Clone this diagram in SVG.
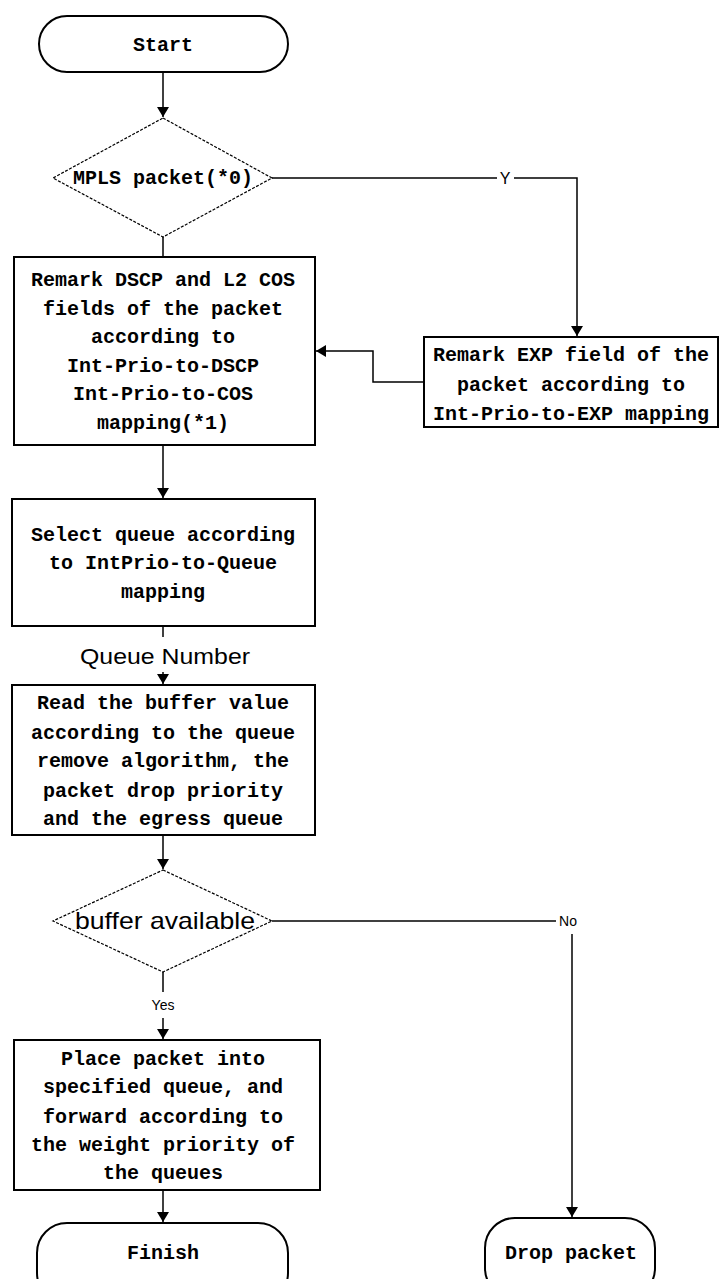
<svg xmlns="http://www.w3.org/2000/svg" width="720" height="1279" viewBox="0 0 720 1279">
<defs>
<marker id="ah" viewBox="0 0 10 16" refX="10" refY="8" markerWidth="10" markerHeight="16" markerUnits="userSpaceOnUse" orient="auto">
<path d="M0,2 L10,8 L0,14 Z" fill="#000"/>
</marker>
<style>
.shape{fill:#fff;stroke:#000;stroke-width:2}
.dia{fill:#fff;stroke:#000;stroke-width:1.2;stroke-dasharray:3 1.5}
.t{font-family:"Liberation Mono",monospace;font-weight:bold;font-size:20px;text-anchor:middle;fill:#000}
.s{font-family:"Liberation Sans",Arial,sans-serif;text-anchor:middle;fill:#000}
.c{fill:none;stroke:#000;stroke-width:1.5}
</style>
</defs>
<rect width="720" height="1279" fill="#fff"/>
<g id="connectors">
<path class="c" d="M163,72 V117" marker-end="url(#ah)"/>
<path class="c" d="M272,178 H497 M514,178 H577 V336" marker-end="url(#ah)"/>
<path class="c" d="M163,237 V257"/>
<path class="c" d="M424,382 H373 V351 H316" marker-end="url(#ah)"/>
<path class="c" d="M163,445 V498" marker-end="url(#ah)"/>
<path class="c" d="M163,626 V637"/>
<path class="c" d="M163,672 V684" marker-end="url(#ah)"/>
<path class="c" d="M163,835 V869" marker-end="url(#ah)"/>
<path class="c" d="M272,921 H556"/>
<path class="c" d="M572,934 V1217" marker-end="url(#ah)"/>
<path class="c" d="M163,972 V992"/>
<path class="c" d="M163,1018 V1039" marker-end="url(#ah)"/>
<path class="c" d="M163,1190 V1222" marker-end="url(#ah)"/>
<text class="s" x="505" y="184" font-size="16">Y</text>
<text class="s" x="163" y="265" font-size="13" font-weight="bold">N</text>
<text class="s" x="165" y="664" font-size="22" textLength="170" lengthAdjust="spacingAndGlyphs">Queue Number</text>
<text class="s" x="568" y="926" font-size="14">No</text>
<text class="s" x="163" y="1010" font-size="14">Yes</text>
</g>
<g id="start">
<rect class="shape" x="39" y="16" width="249" height="56" rx="28" ry="28"/>
<text class="t" x="163" y="51">Start</text>
</g>
<g id="mpls">
<polygon class="dia" points="163,118 272,178 163,237 53,178"/>
<text class="t" x="163" y="184">MPLS packet(*0)</text>
</g>
<g id="remark-dscp">
<rect class="shape" x="14" y="257" width="301" height="188"/>
<text class="t" x="163" y="286">Remark DSCP and L2 COS</text>
<text class="t" x="163" y="315">fields of the packet</text>
<text class="t" x="163" y="343">according to</text>
<text class="t" x="163" y="372">Int-Prio-to-DSCP</text>
<text class="t" x="163" y="400">Int-Prio-to-COS</text>
<text class="t" x="163" y="429">mapping(*1)</text>
</g>
<g id="remark-exp">
<rect class="shape" x="424" y="337" width="294" height="90"/>
<text class="t" x="571" y="361">Remark EXP field of the</text>
<text class="t" x="571" y="391">packet according to</text>
<text class="t" x="571" y="420">Int-Prio-to-EXP mapping</text>
</g>
<g id="select-queue">
<rect class="shape" x="12" y="499" width="303" height="127"/>
<text class="t" x="163" y="541">Select queue according</text>
<text class="t" x="163" y="569">to IntPrio-to-Queue</text>
<text class="t" x="163" y="598">mapping</text>
</g>
<g id="read-buffer">
<rect class="shape" x="12" y="685" width="303" height="150"/>
<text class="t" x="163" y="709">Read the buffer value</text>
<text class="t" x="163" y="739">according to the queue</text>
<text class="t" x="163" y="767">remove algorithm, the</text>
<text class="t" x="163" y="797">packet drop priority</text>
<text class="t" x="163" y="825">and the egress queue</text>
</g>
<g id="buffer-available">
<polygon class="dia" points="163,870 272,921 163,972 53,921"/>
<text class="s" x="165" y="929" font-size="24" textLength="180" lengthAdjust="spacingAndGlyphs">buffer available</text>
</g>
<g id="place-packet">
<rect class="shape" x="14" y="1040" width="306" height="150"/>
<text class="t" x="163" y="1065">Place packet into</text>
<text class="t" x="163" y="1093">specified queue, and</text>
<text class="t" x="163" y="1123">forward according to</text>
<text class="t" x="163" y="1151">the weight priority of</text>
<text class="t" x="163" y="1179">the queues</text>
</g>
<g id="finish">
<rect class="shape" x="37" y="1223" width="251" height="80" rx="30" ry="30"/>
<text class="t" x="163" y="1259">Finish</text>
</g>
<g id="drop-packet">
<rect class="shape" x="485" y="1218" width="170" height="80" rx="30" ry="30"/>
<text class="t" x="571" y="1259">Drop packet</text>
</g>
</svg>
